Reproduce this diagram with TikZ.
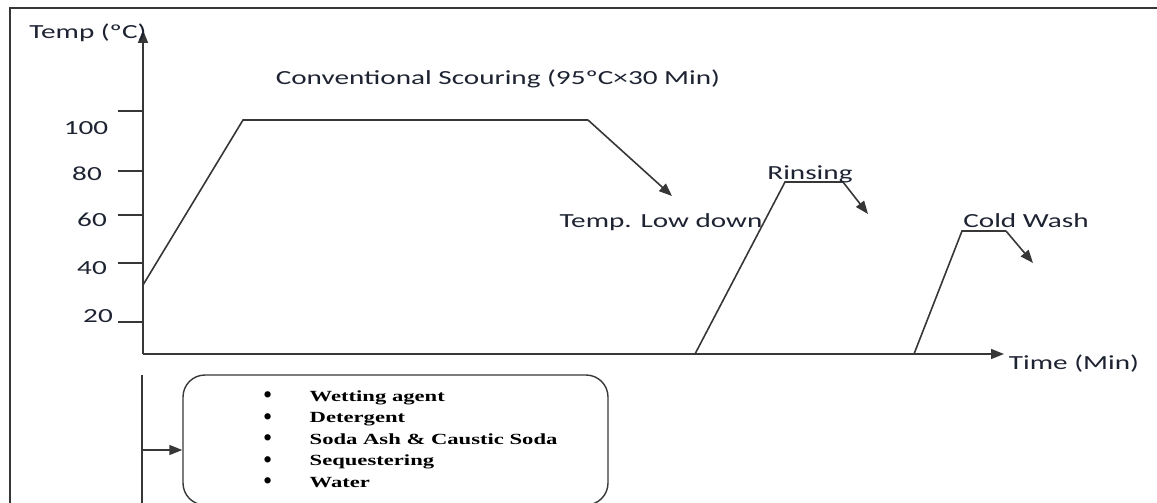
\documentclass[tikz,border=0pt]{standalone}
\usepackage{fontspec}
\usepackage{graphicx}
\setmainfont{Carlito}
\newfontfamily\listfont{Liberation Serif}
\usetikzlibrary{arrows.meta}
\definecolor{linegray}{RGB}{55,55,55}
\definecolor{labelink}{RGB}{30,35,50}
\newcommand{\wide}[1]{\scalebox{1.46}[1]{#1}}
\newcommand{\dotmark}{\raisebox{-1.5pt}{\scalebox{1.5}{\textbullet}}}

\begin{document}
\begin{tikzpicture}[x=1pt, y=-1pt,
    axis/.style={draw=linegray, line width=1.6pt},
    tip/.style={-{Triangle[length=13pt,width=10pt]}},
    lbl/.style={text=labelink, font=\fontsize{20}{22}\selectfont, inner sep=0pt},
    tick/.style={draw=linegray, line width=1.4pt}]

    \useasboundingbox (0,0) rectangle (1157,503);

    % Frame around the figure
    \draw[axis] (10,503) -- (10,8) -- (1157,8);

    % Axes
    \coordinate (origin) at (143,354);
    \coordinate (ytop) at (143,30);
    \coordinate (xend) at (1004,354);
    \draw[axis, tip] (origin) -- (ytop);
    \draw[axis, tip] (origin) -- (xend);
    \node[lbl] (ylabel) at (88,33) {\wide{Temp (ºC)}};
    \node[lbl] (xlabel) at (1074,364) {\wide{Time (Min)}};

    % Temperature ticks
    \foreach \val/\ty/\lx/\ly in {100/111/86/128, 80/171/87/174, 60/215/92/220, 40/263/92/268, 20/322/98/316} {
        \draw[tick] (118,\ty) -- (143,\ty);
        \node[lbl] (t\val) at (\lx,\ly) {\wide{\val}};
    }

    % Conventional scouring profile
    \coordinate (s1) at (143,285);
    \coordinate (s2) at (243,120);
    \coordinate (s3) at (588,120);
    \coordinate (s4) at (672,196);
    \draw[axis] (s1) -- (s2) -- (s3);
    \draw[axis, tip] (s3) -- (s4);
    \node[lbl] (scour) at (498,79) {\wide{Conventional Scouring (95ºC×30 Min)}};
    \node[lbl] (lowdown) at (661,222) {\wide{Temp. Low down}};

    % Rinsing
    \coordinate (r1) at (695,354);
    \coordinate (r2) at (785,182);
    \coordinate (r3) at (843,182);
    \coordinate (r4) at (868,214);
    \draw[axis] (r1) -- (r2) -- (r3);
    \draw[axis, tip] (r3) -- (r4);
    \node[lbl] (rinse) at (810,174) {\wide{Rinsing}};

    % Cold wash
    \coordinate (c1) at (914,354);
    \coordinate (c2) at (962,231);
    \coordinate (c3) at (1006,231);
    \coordinate (c4) at (1033,263);
    \draw[axis] (c1) -- (c2) -- (c3);
    \draw[axis, tip] (c3) -- (c4);
    \node[lbl] (cold) at (1026,221) {\wide{Cold Wash}};

    % Chemicals box
    \draw[axis] (142,375) -- (142,503);
    \node[draw=linegray, line width=1.4pt, rounded corners=22pt, minimum width=425pt, minimum height=130pt, inner sep=0pt]
        (chem) at (395.5,440) {\listfont\bfseries\fontsize{15.5}{21.5}\selectfont
        \begin{tabular}{@{\hspace{30pt}}l@{\hspace{38pt}}l@{}}
            \dotmark & \wide{Wetting agent}\\
            \dotmark & \wide{Detergent}\\
            \dotmark & \wide{Soda Ash \& Caustic Soda}\\
            \dotmark & \wide{Sequestering}\\
            \dotmark & \wide{Water}
        \end{tabular}};
    \coordinate (feed) at (142,450);
    \draw[axis, tip] (feed) -- (feed -| chem.west);
\end{tikzpicture}
\end{document}
